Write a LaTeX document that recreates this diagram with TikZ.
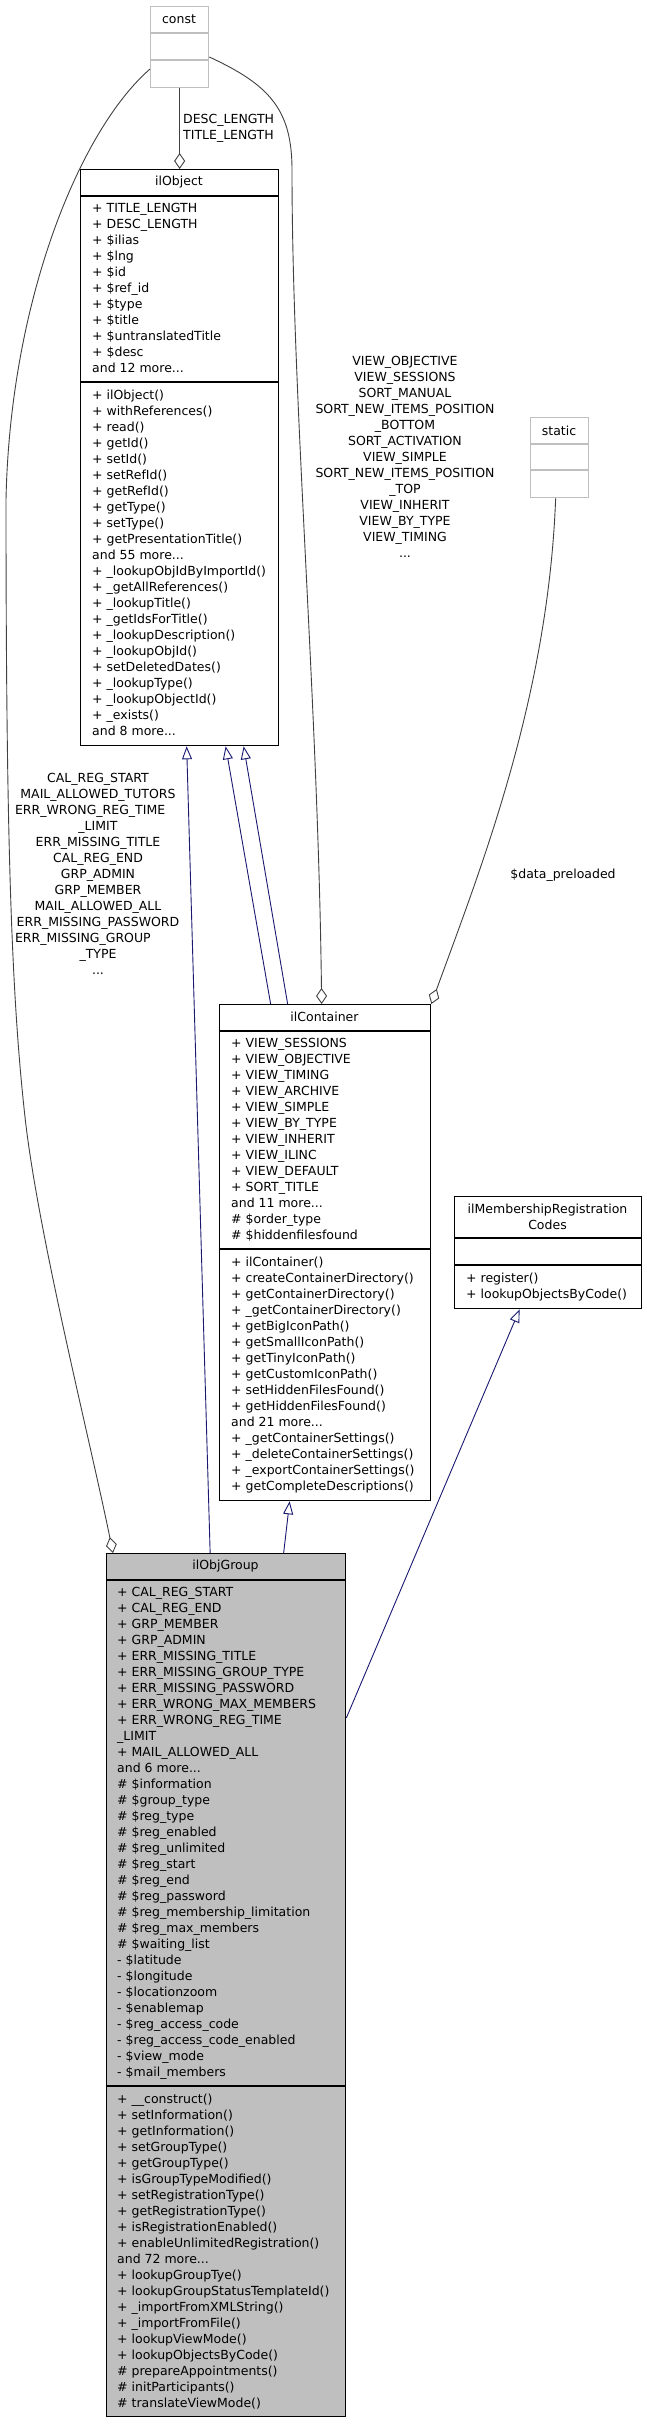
\documentclass[tikz,border=0pt]{standalone}
\usepackage{fontspec}
\setmainfont{DejaVu Sans}
\usetikzlibrary{arrows.meta,calc}
\definecolor{grey75}{HTML}{BFBFBF}
\definecolor{edgegray}{HTML}{404040}
\definecolor{navyline}{HTML}{191970}
\newcommand{\umlfont}{\fontsize{12.5}{16}\selectfont}

\begin{document}
\begin{tikzpicture}[x=1pt, y=-1pt,
    classbox/.style={draw=black, line width=1.3pt, fill=white, inner sep=0pt, anchor=north west},
    stubbox/.style={classbox, draw=grey75},
    divider/.style={line width=1.3pt},
    classname/.style={inner sep=0pt, font=\umlfont},
    members/.style={inner sep=0pt, anchor=north west, align=left, font=\umlfont},
    edgelabel/.style={inner sep=0pt, anchor=north, align=center, font=\umlfont},
    uses/.style={draw=edgegray, line width=0.9pt, -{Diamond[open, length=16pt, width=11pt]}},
    isa/.style={draw=navyline, line width=0.9pt, -{Triangle[open, length=13pt, width=10pt]}}]
    \useasboundingbox (0,0) rectangle (646,2424);

    % const
    \node[stubbox, minimum width=58pt, minimum height=81pt] (const) at (150,6) {};
    \draw[divider, grey75] (const.west |- 0,33) -- (const.east |- 0,33);
    \draw[divider, grey75] (const.west |- 0,60) -- (const.east |- 0,60);
    \node[classname] at (179,19.5) {const};

    % static
    \node[stubbox, minimum width=58pt, minimum height=80pt] (static) at (530,417) {};
    \draw[divider, grey75] (static.west |- 0,444) -- (static.east |- 0,444);
    \draw[divider, grey75] (static.west |- 0,470) -- (static.east |- 0,470);
    \node[classname] at (559,430.5) {static};

    % ilObject
    \node[classbox, minimum width=198pt, minimum height=576pt] (ilObject) at (80,169) {};
    \draw[divider] (ilObject.west |- 0,196) -- (ilObject.east |- 0,196);
    \draw[divider] (ilObject.west |- 0,382) -- (ilObject.east |- 0,382);
    \node[classname] at (179,182.5) {ilObject};
    \node[members] at (92,201.3) {\strut+ TITLE\_LENGTH\\+ DESC\_LENGTH\\+ \$ilias\\+ \$lng\\+ \$id\\+ \$ref\_id\\+ \$type\\+ \$title\\+ \$untranslatedTitle\\+ \$desc\\and 12 more...};
    \node[members] at (92,388.3) {\strut+ ilObject()\\+ withReferences()\\+ read()\\+ getId()\\+ setId()\\+ setRefId()\\+ getRefId()\\+ getType()\\+ setType()\\+ getPresentationTitle()\\and 55 more...\\+ \_lookupObjIdByImportId()\\+ \_getAllReferences()\\+ \_lookupTitle()\\+ \_getIdsForTitle()\\+ \_lookupDescription()\\+ \_lookupObjId()\\+ setDeletedDates()\\+ \_lookupType()\\+ \_lookupObjectId()\\+ \_exists()\\and 8 more...};

    % ilContainer
    \node[classbox, minimum width=211pt, minimum height=496pt] (ilContainer) at (219,1004) {};
    \draw[divider] (ilContainer.west |- 0,1031) -- (ilContainer.east |- 0,1031);
    \draw[divider] (ilContainer.west |- 0,1249) -- (ilContainer.east |- 0,1249);
    \node[classname] at (324.5,1016.5) {ilContainer};
    \node[members] at (231,1036.3) {\strut+ VIEW\_SESSIONS\\+ VIEW\_OBJECTIVE\\+ VIEW\_TIMING\\+ VIEW\_ARCHIVE\\+ VIEW\_SIMPLE\\+ VIEW\_BY\_TYPE\\+ VIEW\_INHERIT\\+ VIEW\_ILINC\\+ VIEW\_DEFAULT\\+ SORT\_TITLE\\and 11 more...\\\# \$order\_type\\\# \$hiddenfilesfound};
    \node[members] at (231,1255.3) {\strut+ ilContainer()\\+ createContainerDirectory()\\+ getContainerDirectory()\\+ \_getContainerDirectory()\\+ getBigIconPath()\\+ getSmallIconPath()\\+ getTinyIconPath()\\+ getCustomIconPath()\\+ setHiddenFilesFound()\\+ getHiddenFilesFound()\\and 21 more...\\+ \_getContainerSettings()\\+ \_deleteContainerSettings()\\+ \_exportContainerSettings()\\+ getCompleteDescriptions()};

    % ilMembershipRegistrationCodes
    \node[classbox, minimum width=187pt, minimum height=112pt] (ilMembership) at (454,1196) {};
    \draw[divider] (ilMembership.west |- 0,1238) -- (ilMembership.east |- 0,1238);
    \draw[divider] (ilMembership.west |- 0,1265) -- (ilMembership.east |- 0,1265);
    \node[edgelabel] at (547.5,1202.3) {\strut ilMembershipRegistration\\Codes};
    \node[members] at (466,1271.3) {\strut+ register()\\+ lookupObjectsByCode()};

    % ilObjGroup
    \node[classbox, fill=grey75, minimum width=239pt, minimum height=863pt] (ilObjGroup) at (106,1553) {};
    \draw[divider] (ilObjGroup.west |- 0,1580) -- (ilObjGroup.east |- 0,1580);
    \draw[divider] (ilObjGroup.west |- 0,2086) -- (ilObjGroup.east |- 0,2086);
    \node[classname] at (225.5,1566.5) {ilObjGroup};
    \node[members] at (117,1585.3) {\strut+ CAL\_REG\_START\\+ CAL\_REG\_END\\+ GRP\_MEMBER\\+ GRP\_ADMIN\\+ ERR\_MISSING\_TITLE\\+ ERR\_MISSING\_GROUP\_TYPE\\+ ERR\_MISSING\_PASSWORD\\+ ERR\_WRONG\_MAX\_MEMBERS\\+ ERR\_WRONG\_REG\_TIME\\\_LIMIT\\+ MAIL\_ALLOWED\_ALL\\and 6 more...\\\# \$information\\\# \$group\_type\\\# \$reg\_type\\\# \$reg\_enabled\\\# \$reg\_unlimited\\\# \$reg\_start\\\# \$reg\_end\\\# \$reg\_password\\\# \$reg\_membership\_limitation\\\# \$reg\_max\_members\\\# \$waiting\_list\\- \$latitude\\- \$longitude\\- \$locationzoom\\- \$enablemap\\- \$reg\_access\_code\\- \$reg\_access\_code\_enabled\\- \$view\_mode\\- \$mail\_members};
    \node[members] at (117,2092.3) {\strut+ \_\_construct()\\+ setInformation()\\+ getInformation()\\+ setGroupType()\\+ getGroupType()\\+ isGroupTypeModified()\\+ setRegistrationType()\\+ getRegistrationType()\\+ isRegistrationEnabled()\\+ enableUnlimitedRegistration()\\and 72 more...\\+ lookupGroupTye()\\+ lookupGroupStatusTemplateId()\\+ \_importFromXMLString()\\+ \_importFromFile()\\+ lookupViewMode()\\+ lookupObjectsByCode()\\\# prepareAppointments()\\\# initParticipants()\\\# translateViewMode()};

    % usage edges
    \draw[uses] (const.south) -- (ilObject.north);
    \draw[uses] (const.west |- 0,69) .. controls (80,130) and (10,300) .. (6,500)
        .. controls (6,850) and (12,1000) .. (25,1117)
        .. controls (38,1234) and (90,1440) .. ([xshift=7pt]ilObjGroup.north west);
    \draw[uses] (const.east |- 0,57) .. controls (270,85) and (292,110) .. (292,170)
        .. controls (292,400) and (318,700) .. ([xshift=-3.5pt]ilContainer.north);
    \draw[uses] ([xshift=-4pt]static.south) .. controls (548,700) and (480,870) .. (ilContainer.north east);

    % edge labels
    \node[members] at (183,112.3) {\strut DESC\_LENGTH\\TITLE\_LENGTH};
    \node[edgelabel] at (98,771.3) {\strut CAL\_REG\_START\\MAIL\_ALLOWED\_TUTORS\\\makebox[166pt][l]{ERR\_WRONG\_REG\_TIME}\\\_LIMIT\\ERR\_MISSING\_TITLE\\CAL\_REG\_END\\GRP\_ADMIN\\GRP\_MEMBER\\MAIL\_ALLOWED\_ALL\\ERR\_MISSING\_PASSWORD\\\makebox[166pt][l]{ERR\_MISSING\_GROUP}\\\_TYPE\\...};
    \node[edgelabel] at (405,354.3) {\strut VIEW\_OBJECTIVE\\VIEW\_SESSIONS\\SORT\_MANUAL\\SORT\_NEW\_ITEMS\_POSITION\\\_BOTTOM\\SORT\_ACTIVATION\\VIEW\_SIMPLE\\SORT\_NEW\_ITEMS\_POSITION\\\_TOP\\VIEW\_INHERIT\\VIEW\_BY\_TYPE\\VIEW\_TIMING\\...};
    \node[edgelabel] at (563,867.3) {\strut\$data\_preloaded};

    % inheritance edges
    \draw[isa] ([xshift=-16pt]ilObjGroup.north) -- ([xshift=7pt]ilObject.south);
    \draw[isa] ([xshift=-54.5pt]ilContainer.north) -- ([xshift=46pt]ilObject.south);
    \draw[isa] ([xshift=-37.5pt]ilContainer.north) -- ([xshift=64pt]ilObject.south);
    \draw[isa] ([xshift=57.5pt]ilObjGroup.north) -- ([xshift=-35.5pt]ilContainer.south);
    \draw[isa] (ilObjGroup.east |- 0,1718) -- ([xshift=-28.5pt]ilMembership.south);
\end{tikzpicture}
\end{document}
